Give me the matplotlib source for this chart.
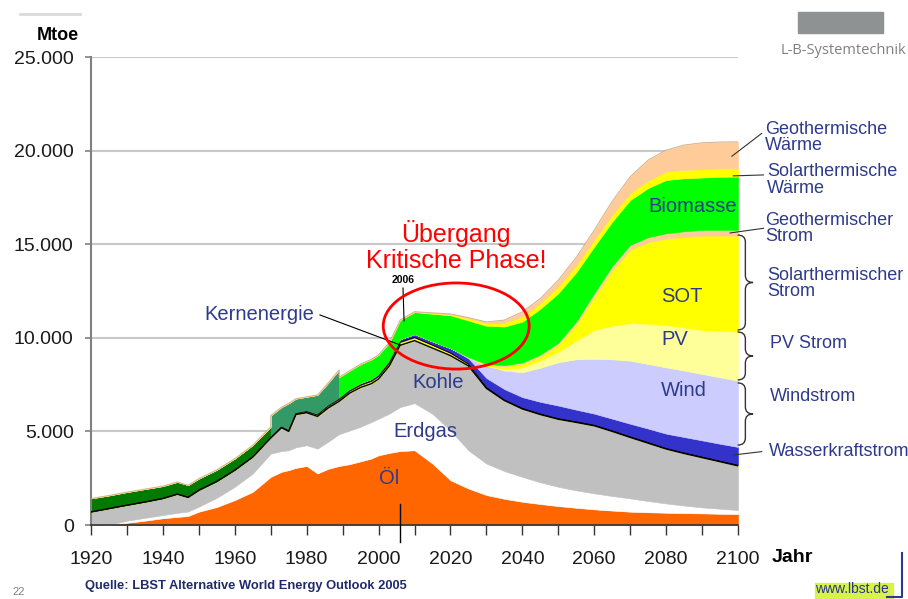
import numpy as np
import matplotlib
matplotlib.use("Agg")
import matplotlib.pyplot as plt
from matplotlib.patches import Ellipse, PathPatch, Rectangle
from matplotlib.path import Path
from matplotlib.lines import Line2D
from matplotlib.ticker import FuncFormatter, MultipleLocator

plt.rcParams['font.family'] = ['Liberation Sans', 'DejaVu Sans']

# 1970 and 1989 appear twice: the historical biomass series jumps there
years = [1920, 1925, 1930, 1935, 1940, 1944, 1947, 1950, 1955, 1960,
         1965, 1970, 1970, 1973, 1975, 1977, 1980, 1983, 1986, 1989,
         1989, 1992, 1995, 1998, 2000, 2003, 2006, 2010, 2015, 2020,
         2025, 2030, 2035, 2040, 2045, 2050, 2055, 2060, 2065, 2070,
         2075, 2080, 2085, 2090, 2095, 2100]

# Mtoe per source (stacked bottom -> top)
oil = [0, 0, 120, 230, 360, 430, 480, 710, 960, 1330,
       1770, 2570, 2570, 2840, 2930, 3050, 3150, 2750, 3000, 3150,
       3150, 3250, 3400, 3550, 3720, 3850, 3950, 3990, 3280, 2390,
       1950, 1600, 1400, 1240, 1120, 1010, 920, 835, 770, 710,
       680, 655, 635, 620, 600, 585]
gas = [0, 0, 110, 150, 170, 220, 240, 270, 490, 710,
       980, 1240, 1240, 1110, 1060, 1100, 1110, 1330, 1450, 1700,
       1700, 1800, 1850, 1950, 1960, 2100, 2350, 2520, 2660, 2660,
       2040, 1680, 1480, 1330, 1160, 1030, 930, 855, 780, 710,
       600, 495, 405, 320, 270, 215]
coal = [700, 880, 830, 850, 890, 1000, 760, 880, 880, 890,
        880, 840, 840, 1250, 1010, 1750, 1740, 1720, 1800, 1750,
        1750, 2000, 2100, 2050, 2120, 2550, 3300, 3340, 3510, 4000,
        4510, 4020, 3770, 3630, 3620, 3610, 3630, 3610, 3450, 3260,
        3090, 2910, 2780, 2660, 2510, 2360]
nuclear = [0, 0, 0, 0, 0, 0, 0, 0, 0, 0,
           10, 20, 20, 30, 40, 50, 60, 80, 100, 110,
           110, 120, 130, 140, 150, 160, 170, 170, 160, 140,
           100, 50, 30, 30, 30, 30, 30, 30, 30, 30,
           30, 30, 30, 30, 30, 30]
hydro = [0, 0, 0, 0, 0, 0, 0, 0, 0, 10,
         20, 30, 30, 40, 40, 50, 50, 50, 60, 70,
         70, 90, 100, 110, 120, 130, 160, 180, 200, 260,
         300, 500, 580, 600, 650, 700, 650, 620, 650, 700,
         750, 790, 850, 890, 930, 980]
wind = [0, 0, 0, 0, 0, 0, 0, 0, 0, 0,
        0, 0, 0, 0, 0, 0, 0, 0, 0, 0,
        0, 0, 0, 0, 0, 0, 0, 0, 0, 0,
        50, 660, 990, 1330, 1820, 2310, 2690, 2920, 3170, 3370,
        3450, 3540, 3550, 3550, 3550, 3540]
pv = [0, 0, 0, 0, 0, 0, 0, 0, 0, 0,
      0, 0, 0, 0, 0, 0, 0, 0, 0, 0,
      0, 0, 0, 0, 0, 0, 0, 0, 0, 0,
      0, 0, 80, 260, 400, 570, 1000, 1550, 1800, 2000,
      2150, 2260, 2300, 2350, 2480, 2620]
sot = [0, 0, 0, 0, 0, 0, 0, 0, 0, 0,
       0, 0, 0, 0, 0, 0, 0, 0, 0, 0,
       0, 0, 0, 0, 0, 0, 0, 0, 0, 0,
       0, 50, 150, 180, 200, 340, 850, 1760, 2950, 3930,
       4350, 4620, 4850, 5040, 5090, 5120]
geo_strom = [0, 0, 0, 0, 0, 0, 0, 0, 0, 0,
             0, 0, 0, 0, 0, 0, 0, 0, 0, 0,
             0, 0, 0, 0, 0, 0, 0, 0, 0, 0,
             20, 40, 60, 80, 100, 130, 160, 200, 230, 250,
             270, 280, 290, 300, 300, 310]
biomass = [720, 700, 700, 690, 660, 650, 650, 620, 620, 610,
           610, 550, 1150, 1030, 1420, 750, 740, 1020, 1190, 1500,
           1120, 990, 1020, 1050, 1030, 960, 1020, 1170, 1470, 1750,
           1950, 2040, 2060, 2180, 2450, 2650, 2640, 2490, 2370, 2400,
           2630, 2850, 2830, 2800, 2840, 2850]
sol_waerme = [0, 0, 0, 0, 0, 0, 0, 0, 0, 0,
              0, 0, 0, 0, 0, 0, 0, 0, 0, 0,
              0, 0, 0, 0, 0, 0, 0, 20, 40, 60,
              110, 150, 200, 270, 300, 350, 360, 360, 360, 360,
              400, 450, 450, 440, 450, 450]
geo_waerme = [0, 0, 0, 0, 0, 0, 0, 0, 0, 0,
              0, 0, 0, 0, 0, 0, 0, 0, 0, 0,
              0, 0, 0, 0, 0, 0, 0, 10, 15, 20,
              50, 60, 150, 260, 250, 360, 440, 530, 740, 890,
              1100, 1150, 1330, 1420, 1410, 1410]

x_ticks = [1920, 1940, 1960, 1980, 2000, 2020, 2040, 2060, 2080, 2100]

navy = '#2E3A8C'

layers = [oil, gas, coal, nuclear, hydro, wind, pv, sot,
          geo_strom, biomass, sol_waerme, geo_waerme]
colors = ['#FF6600', '#FFFFFF', '#C0C0C0', '#FFFF00', '#3333CC', '#CCCCFF',
          '#FFFF99', '#FFFF00', '#FFCC99', None, '#FFFF00', '#FFCC99']
# biomass colour per period: traditional, statistics up to 1989, scenario
bio_parts = [(slice(0, 12), '#007A00'), (slice(12, 20), '#339966'), (slice(20, None), '#00FF00')]

x = np.array(years, dtype=float)
tops = np.cumsum(np.array(layers, dtype=float), axis=0)
bottoms = np.vstack([np.zeros(len(x)), tops[:-1]])

fig = plt.figure(figsize=(9.08, 5.99), dpi=100)
ax = fig.add_axes([91 / 908, 74 / 599, 647 / 908, 468 / 599])

for i, col in enumerate(colors):
    if col is None:
        for s, c in bio_parts:
            ax.fill_between(x[s], bottoms[i][s], tops[i][s], color=c, lw=0.4, zorder=2)
    else:
        ax.fill_between(x, bottoms[i], tops[i], color=col, lw=0.4, zorder=2)

ax.plot(x, tops[2], color='black', lw=1.0, zorder=3)
ax.plot(x, tops[3], color='black', lw=0.6, zorder=3)
ax.plot(x, tops[-1], color='#C8B090', lw=0.6, zorder=3)

ax.set_xlim(1920, 2100)
ax.set_ylim(0, 25000)
ax.set_xticks(x_ticks)
ax.xaxis.set_minor_locator(MultipleLocator(10))
ax.yaxis.set_major_locator(MultipleLocator(5000))
ax.yaxis.set_major_formatter(FuncFormatter(lambda v, _: f"{int(v):,}".replace(',', '.')))
ax.tick_params(axis='x', which='both', length=7, width=1, color='#333333',
               labelsize=14, labelcolor='#1a1a1a', pad=12)
ax.tick_params(axis='y', length=4, width=1.2, color='#808080',
               labelsize=14, labelcolor='#1a1a1a', pad=8.5)
ax.grid(axis='y', color='#C8C8C8', lw=1.5)
ax.set_axisbelow(True)
for s in ['top', 'right']:
    ax.spines[s].set_visible(False)
ax.spines['left'].set_color('#808080')
ax.spines['left'].set_linewidth(1.5)
ax.spines['bottom'].set_color('#333333')
ax.spines['bottom'].set_linewidth(1.2)

# labels inside the areas
for txt, xx, yy in [('Öl', 2002.9, 2510), ('Erdgas', 2012.9, 4970), ('Kohle', 2016.6, 7590),
                    ('Wind', 2085.0, 7210), ('PV', 2082.3, 9930), ('SOT', 2084.4, 12210),
                    ('Biomasse', 2087.4, 16990), ('Kernenergie', 1966.7, 11220)]:
    ax.text(xx, yy, txt, color=navy, fontsize=14.5, ha='center', va='center', zorder=5)
ax.plot([1983.7, 2006.0], [11220, 9620], color='black', lw=0.8, zorder=5)

# 2006 marker
ax.text(2006.8, 13090, '2006', fontsize=7.5, fontweight='bold', ha='center', va='center')
ax.plot([2006.8, 2007.1], [12660, 10900], color='black', lw=0.8, zorder=5)
ax.plot([2006, 2006], [1100, -900], color='black', lw=1, clip_on=False, zorder=5)

# critical phase
ax.add_patch(Ellipse((2021.6, 10630), 40.6, 4600, fill=False, ec='#FF0000', lw=2,
                     zorder=6, clip_on=False))
ax.text(2021.6, 14880, 'Übergang\nKritische Phase!', color='#FF0000', fontsize=18,
        ha='center', va='center', linespacing=1.15)

# right side labels
right_labels = [('Geothermische\nWärme', 2107.5, 20700), ('Solarthermische\nWärme', 2108.0, 18430),
                ('Geothermischer\nStrom', 2107.5, 15850), ('Solarthermischer\nStrom', 2108.0, 12890),
                ('PV Strom', 2108.9, 9710), ('Windstrom', 2108.9, 6860),
                ('Wasserkraftstrom', 2108.5, 3920)]
for txt, xx, yy in right_labels:
    ax.text(xx, yy, txt, color=navy, fontsize=13, ha='left', va='center', linespacing=0.95)

for (x0, y0), (x1, y1) in [((2106.6, 20920), (2098.3, 19700)), ((2107.1, 18700), (2098.7, 18650)),
                           ((2107.1, 15850), (2097.8, 15600)), ((2106.6, 3920), (2098.7, 3740))]:
    ax.plot([x0, x1], [y0, y1], color='#333333', lw=0.8, clip_on=False, zorder=5)


def brace(ax, y_bot, y_top, x0=2099.9, x1=2104.2, r=380):
    xm = (x0 + x1) / 2
    ym = (y_bot + y_top) / 2
    verts = [(x0, y_top), (xm, y_top), (xm, y_top - r),
             (xm, ym + r), (xm, ym), (x1, ym),
             (xm, ym), (xm, ym - r),
             (xm, y_bot + r), (xm, y_bot), (x0, y_bot)]
    codes = [Path.MOVETO, Path.CURVE3, Path.CURVE3, Path.LINETO, Path.CURVE3, Path.CURVE3,
             Path.CURVE3, Path.CURVE3, Path.LINETO, Path.CURVE3, Path.CURVE3]
    ax.add_patch(PathPatch(Path(verts, codes), fill=False, ec='#333333', lw=1,
                           clip_on=False, zorder=5))


brace(ax, 10420, 15490)
brace(ax, 7750, 10310)
brace(ax, 4270, 7590)


def fx(px):
    return px / 908


def fy(py):
    return 1 - py / 599


fig.text(fx(58), fy(35), 'Mtoe', fontsize=13, fontweight='bold', ha='center', va='center')
fig.text(fx(772), fy(557), 'Jahr', fontsize=14, fontweight='bold', ha='left', va='center')
fig.text(fx(85), fy(586), 'Quelle: LBST Alternative World Energy Outlook 2005', fontsize=9.3,
         fontweight='bold', color='#1F2A6E', ha='left', va='center')
fig.text(fx(12), fy(592), '22', fontsize=8, color='#808080', ha='left', va='center')

# logo corner
fig.add_artist(Rectangle((fx(798), fy(33)), fx(85), 21 / 599, color='#8E9292',
                         transform=fig.transFigure))
fig.text(fx(843), fy(51), 'L-B-Systemtechnik', fontsize=10.5, color='#808080',
         family=['Open Sans', 'DejaVu Sans'], ha='center', va='center')
fig.add_artist(Line2D([fx(20), fx(80)], [fy(14), fy(14)], color='#DADADA', lw=2,
                      transform=fig.transFigure))

# footer link
fig.add_artist(Rectangle((fx(815), fy(598)), fx(78), 15 / 599, color='#D7F24A',
                         transform=fig.transFigure))
fig.text(fx(815), fy(589), 'www.lbst.de', fontsize=10, color='#27358C', ha='left', va='center')
fig.add_artist(Line2D([fx(887), fx(902), fx(902)], [fy(597), fy(597), fy(553)],
                      color='#2B3990', lw=1.5, transform=fig.transFigure))

fig.savefig('out.png', dpi=100)
